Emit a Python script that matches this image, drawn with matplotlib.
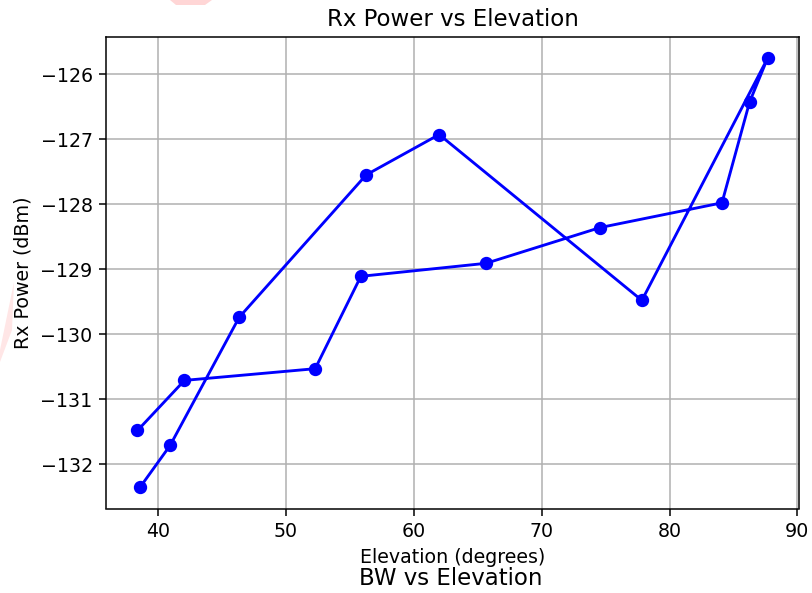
import matplotlib
matplotlib.use("Agg")
import matplotlib.pyplot as plt
from matplotlib.patches import Polygon

elevation = [38.41, 42.08, 52.30, 55.87, 65.65, 74.58, 84.10, 86.26, 87.66,
             77.84, 61.99, 56.29, 46.36, 40.96, 38.62]
rx_power = [-131.48, -130.71, -130.53, -129.11, -128.91, -128.36, -127.98,
            -126.43, -125.76, -129.48, -126.93, -127.55, -129.74, -131.71, -132.35]

DPI = 137
fig = plt.figure(figsize=(812 / DPI, 593 / DPI), dpi=DPI)
ax = fig.add_axes([106 / 812, 1 - 508.5 / 593, 693 / 812, 471.5 / 593])
ax.plot(elevation, rx_power, color="blue", marker="o")
ax.grid(True)
ax.set_title("Rx Power vs Elevation")
ax.set_xlabel("Elevation (degrees)")
ax.set_ylabel("Rx Power (dBm)")
fig.text(451 / 812, 1 - 585 / 593, "BW vs Elevation", fontsize=12,
         ha="center", va="baseline")

# faint watermark fragments
fig.patches.append(Polygon([[170 / 812, 1.0], [212 / 812, 1.0], [205 / 812, 1 - 5 / 593], [176 / 812, 1 - 5 / 593]],
                           closed=True, transform=fig.transFigure, facecolor="#ffd6d6", edgecolor="none"))
fig.patches.append(Polygon([[0, 1 - 350 / 593], [14 / 812, 1 - 282 / 593], [12 / 812, 1 - 330 / 593], [0, 1 - 362 / 593]],
                           closed=True, transform=fig.transFigure, facecolor="#ffe6e6", edgecolor="none"))

fig.savefig("out.png", dpi=DPI)
